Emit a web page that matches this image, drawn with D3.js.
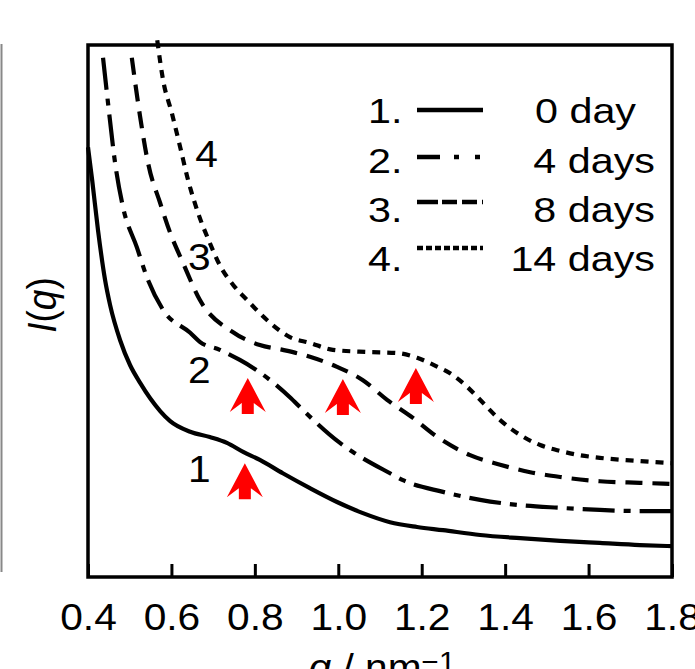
<!DOCTYPE html>
<html>
<head>
<meta charset="utf-8">
<script src="https://cdn.jsdelivr.net/npm/d3@7/dist/d3.min.js"></script>
<style>
	body { margin: 0; background: #fff; }
	svg { display: block; }
</style>
</head>
<body>
<svg id="chart" width="695" height="669"></svg>
<script>
"use strict";

// q in nm^-1, I(q) in arbitrary units (0..100 spans the frame height)
var day0 = [[0.400,80.8],[0.410,74.6],[0.424,65.2],[0.441,55.8],[0.453,51.1],[0.477,44.5],
	[0.501,39.8],[0.525,36.5],[0.549,33.6],[0.573,31.2],[0.597,29.3],[0.645,27.3],[0.692,26.3],
	[0.733,25.2],[0.772,23.5],[0.812,22.0],[0.867,19.5],[0.932,16.7],[0.997,14.1],[1.059,12.0],
	[1.124,10.3],[1.189,9.4],[1.251,8.8],[1.340,7.9],[1.436,7.3],[1.532,6.8],[1.627,6.4],
	[1.723,6.0],[1.800,5.8]];
var day4 = [[0.436,97.6],[0.448,89.1],[0.465,77.8],[0.484,69.5],[0.517,62.0],[0.541,56.4],
	[0.580,50.2],[0.645,45.9],[0.668,44.2],[0.716,42.7],[0.764,40.8],[0.796,39.3],[0.884,33.8],
	[0.915,31.4],[1.004,25.2],[1.035,23.5],[1.124,19.5],[1.155,18.2],[1.251,16.0],[1.340,14.5],
	[1.436,13.5],[1.532,13.0],[1.627,12.6],[1.723,12.4],[1.800,12.4]];
var day8 = [[0.505,97.6],[0.525,86.5],[0.544,77.8],[0.573,70.3],[0.597,64.7],[0.628,59.0],
	[0.668,52.1],[0.746,46.1],[0.812,43.6],[0.867,42.7],[0.932,41.4],[0.997,39.5],[1.059,37.0],
	[1.117,33.3],[1.179,29.9],[1.238,26.3],[1.316,22.9],[1.388,21.1],[1.460,19.7],[1.532,18.8],
	[1.627,18.0],[1.723,17.7],[1.800,17.5]];
var day14 = [[0.566,100.9],[0.580,93.4],[0.601,87.2],[0.621,80.8],[0.640,74.6],[0.664,68.4],
	[0.692,62.8],[0.716,58.6],[0.748,54.9],[0.781,52.1],[0.829,48.3],[0.884,45.1],[0.932,44.0],
	[0.987,42.7],[1.069,42.3],[1.141,42.1],[1.189,41.2],[1.238,39.5],[1.268,38.3],[1.304,36.1],
	[1.340,33.3],[1.388,29.5],[1.436,26.7],[1.484,24.8],[1.532,23.7],[1.579,22.9],[1.627,22.4],
	[1.723,21.8],[1.800,21.4]];

var legendNums = ["1.", "2.", "3.", "4."];
var dayLabels  = ["0 day", "4 days", "8 days", "14 days"];
var qTicks     = [0.4, 0.6, 0.8, 1.0, 1.2, 1.4, 1.6, 1.8];

// curve numbers written next to the curves
var tagText = ["1", "2", "3", "4"];
var tagQ    = [0.640, 0.640, 0.640, 0.657];
var tagI    = [17.9, 36.5, 57.7, 77.1];

// red arrows marking the shoulders (tip position)
var arrowQ = [0.776, 0.783, 1.011, 1.186];
var arrowI = [21.4, 37.4, 37.2, 39.3];

var FONT = "'Liberation Sans', Arial, Helvetica, sans-serif";

function init() {
	var svg = d3.select("#chart").attr("font-family", FONT);
	var x = d3.scaleLinear().domain([0.4, 1.8]).range([88, 672]);
	var y = d3.scaleLinear().domain([0, 100]).range([577, 45]);

	svg.append("rect").attr("width", 695).attr("height", 669).attr("fill", "#fff");

	// edge of the neighbouring panel, left of the crop
	svg.append("line")
	   .attr("x1", 1.5).attr("x2", 1.5).attr("y1", 44).attr("y2", 572)
	   .attr("stroke", "#888").attr("stroke-width", 2);

	// curves
	var series = [day0, day4, day8, day14];
	var dashes = [null, "32,9,7,9", "17,10", "8,7"];
	var line = d3.line()
	             .x(d => x(d[0]))
	             .y(d => y(d[1]))
	             .curve(d3.curveMonotoneX);
	svg.append("g")
	   .selectAll("path")
	   .data(series)
	   .enter()
	   .append("path")
	   .attr("d", line)
	   .attr("fill", "none")
	   .attr("stroke", "#000")
	   .attr("stroke-width", 4.2)
	   .attr("stroke-dasharray", (d, i) => dashes[i]);

	// arrows
	var shape = [[0,0],[18,34],[6,25],[6,36],[-6,36],[-6,25],[-18,34]];
	svg.append("g")
	   .selectAll("path")
	   .data(arrowQ)
	   .enter()
	   .append("path")
	   .attr("transform", (d, i) => "translate(" + x(d) + "," + y(arrowI[i]) + ")")
	   .attr("d", "M" + shape.join("L") + "Z")
	   .attr("fill", "#ff0000");

	// curve numbers
	svg.append("g")
	   .selectAll("text")
	   .data(tagText)
	   .enter()
	   .append("text")
	   .attr("transform", (d, i) => "translate(" + x(tagQ[i]) + "," + y(tagI[i]) + ") scale(1.1,1)")
	   .attr("font-size", 37)
	   .text(d => d);

	// frame
	svg.append("rect")
	   .attr("x", 88).attr("y", 45).attr("width", 584).attr("height", 532)
	   .attr("fill", "none").attr("stroke", "#000").attr("stroke-width", 3.5);

	// bottom axis, ticks pointing inward
	var gx = svg.append("g")
	            .attr("transform", "translate(0,577)")
	            .call(d3.axisBottom(x)
	                    .tickValues(qTicks)
	                    .tickSize(-13)
	                    .tickPadding(27)
	                    .tickFormat(d3.format(".1f")));
	gx.attr("font-family", FONT).attr("font-size", 37);
	gx.select(".domain").remove();
	gx.selectAll(".tick line").attr("stroke", "#000").attr("stroke-width", 3);
	gx.selectAll(".tick text").attr("fill", "#000").attr("transform", "scale(1.1,1)");

	// axis titles
	var xt = svg.append("text")
	            .attr("transform", "translate(382,680) scale(1.1,1)")
	            .attr("text-anchor", "middle")
	            .attr("font-size", 37);
	xt.append("tspan").attr("font-style", "italic").text("q");
	xt.append("tspan").text(" / nm");
	xt.append("tspan").attr("font-size", 27).attr("dy", -9).text("\u22121");

	var yt = svg.append("text")
	            .attr("transform", "translate(56,305) rotate(-90) scale(1,1.1)")
	            .attr("text-anchor", "middle")
	            .attr("font-size", 37);
	yt.append("tspan").attr("font-style", "italic").text("I");
	yt.append("tspan").text("(");
	yt.append("tspan").attr("font-style", "italic").text("q");
	yt.append("tspan").text(")");

	// legend
	var rowBase  = [123, 173, 222, 271];
	var rowLine  = [110, 157, 202, 248];
	var legDash  = [null, "23,14,5,16,5,10", "21,4,15,5,15,5,1", "6,3"];
	var dayRight = [636, 655, 655, 655];
	var leg = svg.append("g");
	legendNums.forEach(function(n, i) {
		leg.append("text")
		   .attr("transform", "translate(368," + rowBase[i] + ") scale(1.18,1)")
		   .attr("font-size", 35)
		   .text(n);
		leg.append("line")
		   .attr("x1", 417).attr("x2", 483)
		   .attr("y1", rowLine[i]).attr("y2", rowLine[i])
		   .attr("stroke", "#000")
		   .attr("stroke-width", 4.5)
		   .attr("stroke-dasharray", legDash[i]);
		leg.append("text")
		   .attr("transform", "translate(" + dayRight[i] + "," + rowBase[i] + ") scale(1.18,1)")
		   .attr("text-anchor", "end")
		   .attr("font-size", 35)
		   .text(dayLabels[i]);
	});
}

init();
</script>
</body>
</html>
